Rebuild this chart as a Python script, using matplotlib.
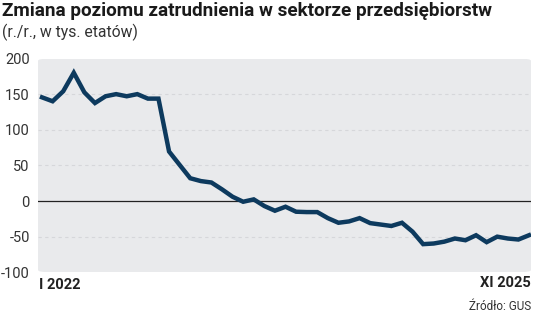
import matplotlib
matplotlib.use('Agg')
import matplotlib.pyplot as plt
from matplotlib.patches import FancyBboxPatch

plt.rcParams['font.family'] = ['Roboto', 'DejaVu Sans']

# monthly y/y change, I 2022 .. XI 2025 (thousand jobs)
values = [145.5, 140, 154, 180, 152.5, 137.5, 147, 150, 147, 150, 143.7, 143.7,
          69.5, 50.7, 32, 28, 26, 16.4, 6, -1, 2.3, -7, -13.6,
          -8, -15, -15.5, -15.5, -24, -30.5, -28.6, -24, -31, -33, -35,
          -30.5, -43, -60.5, -59.6, -57, -52.6, -55, -48, -57.7, -50,
          -52.6, -54, -48]
y_ticks = [-100, -50, 0, 50, 100, 150, 200]
first_label = 'I 2022'
last_label = 'XI 2025'

title = 'Zmiana poziomu zatrudnienia w sektorze przedsiębiorstw'
subtitle = '(r./r., w tys. etatów)'
source = 'Źródło: GUS'

line_color = '#0d3a5e'
bg_color = '#e9eaec'
text_color = '#333333'

W, H = 536, 317
fig = plt.figure(figsize=(W / 100, H / 100), dpi=100)
ax = fig.add_axes([38 / W, 1 - 272.3 / H, (531 - 38) / W, (272.3 - 58.5) / H])
ax.set_facecolor('none')

bg = FancyBboxPatch((0, 0), 1, 1, boxstyle='round,pad=0,rounding_size=0.025',
                    transform=ax.transAxes, facecolor=bg_color, edgecolor='none',
                    zorder=0, mutation_aspect=(272.3 - 58.5) / (531 - 38))
ax.add_patch(bg)

x = list(range(len(values)))
ax.plot(x, values, color=line_color, lw=3.2, solid_joinstyle='miter', zorder=3)
ax.axhline(0, color='#222222', lw=0.9, zorder=2)
for t in y_ticks:
    if t not in (0, -100, 200):
        ax.axhline(t, color='#d6d7da', lw=0.8, ls=(0, (3, 3)), zorder=1)

ax.set_xlim(-0.38, len(values) - 1 + 0.19)
ax.set_ylim(-100, 200)
ax.set_yticks(y_ticks)
ax.set_yticklabels([str(t) for t in y_ticks], fontsize=10.5, color=text_color)
ax.set_xticks([])
ax.tick_params(axis='y', length=0, pad=6)
for s in ax.spines.values():
    s.set_visible(False)

fig.text(39 / W, 1 - 285 / H, first_label, fontsize=10.5, fontweight='bold',
         color='#222222', ha='left', va='center')
fig.text(531 / W, 1 - 283 / H, last_label, fontsize=10.5, fontweight='bold',
         color='#222222', ha='right', va='center')
fig.text(531 / W, 1 - 306 / H, source, fontsize=8.5, color=text_color,
         ha='right', va='center')

fig.text(2 / W, 1 - 11 / H, title, fontsize=13.6, fontweight='bold',
         color='#1a1a1a', ha='left', va='center')
fig.text(2 / W, 1 - 32 / H, subtitle, fontsize=11.3, color=text_color,
         ha='left', va='center')

fig.savefig('out.png', dpi=100, facecolor='white')
